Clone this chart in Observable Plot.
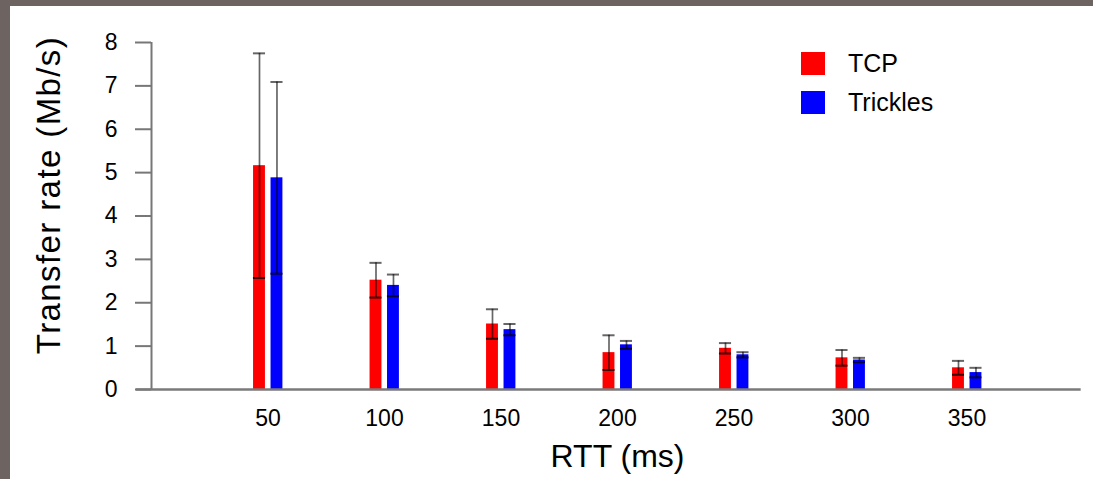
<!DOCTYPE html>
<html>
<head>
<meta charset="utf-8">
<script src="https://cdn.jsdelivr.net/npm/d3@7"></script>
<script src="https://cdn.jsdelivr.net/npm/@observablehq/plot@0.6"></script>
<style>
  html, body { margin: 0; padding: 0; }
  body { width: 1093px; height: 479px; background: #6d6361; position: relative; overflow: hidden; font-family: "Liberation Sans", Arial, sans-serif; }
  #panel { position: absolute; left: 10px; top: 6px; width: 1083px; height: 473px; background: #ffffff; }
  #legend { position: absolute; left: 801px; top: 44px; font-size: 25px; color: #000; }
  .item { display: flex; align-items: center; height: 39px; }
  .sw { width: 24px; height: 23px; margin-right: 23px; }
  #ylabel { position: absolute; left: 48px; top: 195px; transform: translate(-50%, -50%) rotate(-90deg); white-space: nowrap; font-size: 33px; letter-spacing: 1.4px; color: #000; line-height: 1; }
</style>
</head>
<body>
<div id="panel"><div id="chart"></div></div>
<div id="legend"></div>
<div id="ylabel"></div>
<script>
// ---- data ----
const rtt = [50, 100, 150, 200, 250, 300, 350];
const seriesNames = ["TCP", "Trickles"];
const seriesColors = ["#ff0000", "#0000ff"];
const tcpMean = [5.16, 2.52, 1.51, 0.85, 0.95, 0.73, 0.50];
const tcpErr = [2.59, 0.40, 0.34, 0.40, 0.12, 0.18, 0.16];
const tricklesMean = [4.88, 2.40, 1.38, 1.03, 0.80, 0.68, 0.39];
const tricklesErr = [2.21, 0.25, 0.13, 0.09, 0.06, 0.05, 0.11];
const yTicks = [0, 1, 2, 3, 4, 5, 6, 7, 8];
const xLabel = "RTT (ms)";
const yLabel = "Transfer rate (Mb/s)";

// bar placement within each RTT group (in x units)
const barOffset = {TCP: [-6.2, -1.1], Trickles: [1.3, 6.4]};

const rows = [];
rtt.forEach((r, i) => {
  rows.push({rtt: r, series: "TCP", mean: tcpMean[i], err: tcpErr[i]});
  rows.push({rtt: r, series: "Trickles", mean: tricklesMean[i], err: tricklesErr[i]});
});
const x1 = d => d.rtt + barOffset[d.series][0];
const x2 = d => d.rtt + barOffset[d.series][1];
const xc = d => d.rtt + (barOffset[d.series][0] + barOffset[d.series][1]) / 2;
const capL = d => xc(d) - 2.6;
const capR = d => xc(d) + 2.6;

const chart = Plot.plot({
  width: 1083,
  height: 473,
  marginLeft: 141,
  marginRight: 10,
  marginTop: 36,
  marginBottom: 90,
  x: {domain: [0, 400], axis: null},
  y: {domain: [0, 8], axis: null},
  color: {domain: seriesNames, range: seriesColors},
  style: {fontFamily: "Liberation Sans, Arial, sans-serif", background: "transparent", color: "#000", overflow: "visible"},
  marks: [
    Plot.rectY(rows, {x1, x2, y1: 0, y2: "mean", fill: "series"}),
    Plot.ruleX(rows, {x: xc, y1: d => d.mean - d.err, y2: d => d.mean + d.err, stroke: "#000", strokeOpacity: 0.6, strokeWidth: 1.7}),
    Plot.ruleY(rows, {y: d => d.mean + d.err, x1: capL, x2: capR, stroke: "#000", strokeOpacity: 0.6, strokeWidth: 2}),
    Plot.ruleY(rows, {y: d => d.mean - d.err, x1: capL, x2: capR, stroke: "#000", strokeOpacity: 0.75, strokeWidth: 2}),
    Plot.axisY({ticks: yTicks, tickSize: 16, tickPadding: 18, fontSize: 23, stroke: "#777", strokeWidth: 2, label: null}),
    Plot.ruleX([0], {y1: 0, y2: 8, stroke: "#777", strokeWidth: 2}),
    Plot.ruleY([0], {x1: -6.5, x2: 399, stroke: "#7a7a7a", strokeWidth: 2.5}),
    Plot.axisX({ticks: rtt, tickSize: 0, tickPadding: 20, fontSize: 23, label: null}),
    Plot.text([xLabel], {frameAnchor: "bottom", dy: 77, fontSize: 32, fill: "#000"})
  ]
});
document.getElementById("chart").appendChild(chart);

document.getElementById("ylabel").textContent = yLabel;

const legend = document.getElementById("legend");
seriesNames.forEach((name, i) => {
  const item = document.createElement("div");
  item.className = "item";
  const sw = document.createElement("div");
  sw.className = "sw";
  sw.style.background = seriesColors[i];
  const t = document.createElement("span");
  t.textContent = name;
  item.appendChild(sw);
  item.appendChild(t);
  legend.appendChild(item);
});
</script>
</body>
</html>
